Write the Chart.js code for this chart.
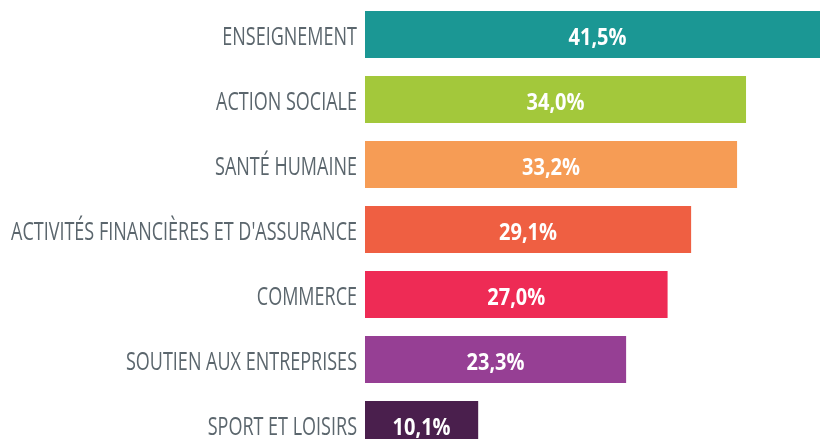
<!DOCTYPE html>
<html><head><meta charset="utf-8">
<script src="https://cdn.jsdelivr.net/npm/chart.js@4"></script>
<style>html,body{margin:0;padding:0;overflow:hidden;background:#fff}canvas{display:block}</style>
</head><body>
<canvas id="c" width="820" height="457"></canvas>
<script>
const categories = [
  "ENSEIGNEMENT",
  "ACTION SOCIALE",
  "SANTÉ HUMAINE",
  "ACTIVITÉS FINANCIÈRES ET D'ASSURANCE",
  "COMMERCE",
  "SOUTIEN AUX ENTREPRISES",
  "SPORT ET LOISIRS"
];
const values = [41.5, 34.0, 33.2, 29.1, 27.0, 23.3, 10.1];
const valueLabels = ["41,5%", "34,0%", "33,2%", "29,1%", "27,0%", "23,3%", "10,1%"];
const barColors = ["#1b9794", "#a3c83b", "#f69c55", "#ef5f42", "#ee2b55", "#963f94", "#4a1f4d"];

const LABEL_FONT = '25px "Open Sans", "Noto Sans", sans-serif';
const VALUE_FONT = 'bold 23px "Open Sans", "Noto Sans", sans-serif';

// Condensed text drawing (the original uses a condensed typeface)
const textPlugin = {
  id: 'condensedText',
  afterDatasetsDraw(chart) {
    const ctx = chart.ctx;
    const yScale = chart.scales.y;
    const meta = chart.getDatasetMeta(0);
    const labels = chart.data.labels;

    // category labels, right-aligned next to the bars
    ctx.save();
    ctx.font = LABEL_FONT;
    const widest = Math.max(...labels.map(l => ctx.measureText(l).width));
    const sx = 346 / widest;
    ctx.fillStyle = '#5b666d';
    ctx.textAlign = 'right';
    ctx.textBaseline = 'alphabetic';
    labels.forEach((label, i) => {
      const y = yScale.getPixelForTick(i);
      ctx.save();
      ctx.translate(yScale.right - 8, y + 10.5);
      ctx.scale(sx, 1);
      ctx.fillText(label, 0, 0);
      ctx.restore();
    });
    ctx.restore();

    // value labels centred in each bar
    ctx.save();
    ctx.font = VALUE_FONT;
    const vsx = 58 / ctx.measureText(valueLabels[0]).width;
    ctx.fillStyle = '#ffffff';
    ctx.textAlign = 'center';
    ctx.textBaseline = 'alphabetic';
    meta.data.forEach((bar, i) => {
      const p = bar.getProps(['x', 'base', 'y'], true);
      ctx.save();
      ctx.translate((p.x + p.base) / 2, p.y + 10);
      ctx.scale(vsx, 1);
      ctx.fillText(valueLabels[i], 0, 0);
      ctx.restore();
    });
    ctx.restore();
  }
};

new Chart(document.getElementById('c'), {
  type: 'bar',
  data: {
    labels: categories,
    datasets: [{
      data: values,
      backgroundColor: barColors,
      borderWidth: 0,
      barPercentage: 1,
      categoryPercentage: 47 / 65
    }]
  },
  options: {
    indexAxis: 'y',
    responsive: false,
    animation: false,
    devicePixelRatio: 1,
    layout: { padding: { top: 2, right: 0, bottom: 0, left: 0 } },
    plugins: { legend: { display: false }, tooltip: { enabled: false } },
    scales: {
      x: { display: false, min: 0, max: 40.6 },
      y: {
        grid: { display: false, drawTicks: false },
        border: { display: false },
        ticks: { display: false },
        afterFit(scale) {
          scale.width = 365;
          scale.paddingTop = 0;
          scale.paddingBottom = 0;
        }
      }
    }
  },
  plugins: [textPlugin]
});
</script>
</body></html>
